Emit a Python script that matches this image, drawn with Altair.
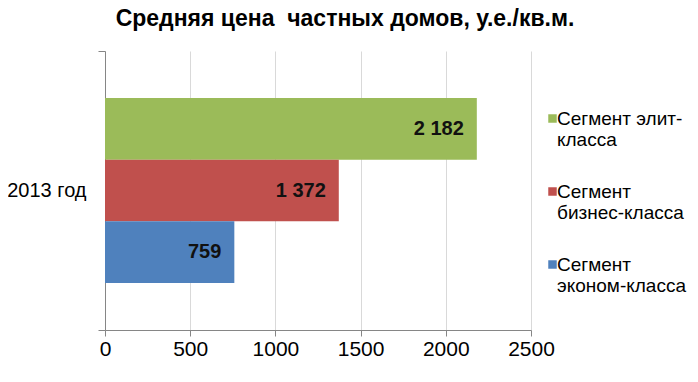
import altair as alt
import pandas as pd

title_text = "Средняя цена\u00a0 частных домов, у.е./кв.м."
years = ["2013 год"]
segments = ["Сегмент элит-\nкласса", "Сегмент\nбизнес-класса", "Сегмент\nэконом-класса"]
values = [2182, 1372, 759]
colors = ["#9BBB59", "#C0504D", "#4F81BD"]
x_ticks = [0, 500, 1000, 1500, 2000, 2500]

df = pd.DataFrame({
    "year": years * len(segments),
    "segment": segments,
    "value": values,
})

FONT = "Liberation Sans"
GRAY = "#868686"

base = alt.Chart(df).encode(
    y=alt.Y(
        "year:N",
        title=None,
        scale=alt.Scale(paddingInner=0, paddingOuter=0),
        axis=alt.Axis(
            tickBand="extent",
            ticks=True,
            tickSize=7,
            tickColor=GRAY,
            domainColor=GRAY,
            labelFontSize=20,
            labelColor="black",
            labelPadding=12,
            grid=False,
        ),
    ),
    yOffset=alt.YOffset(
        "segment:N",
        sort=segments,
        scale=alt.Scale(paddingOuter=0.762, paddingInner=0),
    ),
    x=alt.X(
        "value:Q",
        title=None,
        scale=alt.Scale(domain=[0, 2500], nice=False),
        axis=alt.Axis(
            values=x_ticks,
            format="d",
            grid=True,
            gridColor="#d9d9d9",
            tickSize=6,
            tickColor=GRAY,
            domainColor=GRAY,
            labelFontSize=21,
            labelColor="black",
            labelPadding=2,
            labelFlush=False,
        ),
    ),
)

bars = base.mark_bar(strokeWidth=0).encode(
    color=alt.Color(
        "segment:N",
        sort=segments,
        scale=alt.Scale(domain=segments, range=colors),
        legend=alt.Legend(
            title=None,
            orient="none",
            legendX=438,
            legendY=58,
            symbolType="square",
            symbolSize=72,
            symbolStrokeWidth=0,
            labelFontSize=19,
            labelColor="black",
            labelLimit=300,
            labelOffset={"expr": "-5"},
            labelExpr="split(datum.label, '\\n')",
            rowPadding=32,
            padding=0,
        ),
    )
)

labels = base.transform_calculate(
    lbl="replace(format(datum.value, ','), ',', ' ')"
).mark_text(
    align="right",
    baseline="middle",
    dx=-13,
    fontSize=20,
    fontWeight="bold",
    color="#111111",
).encode(text="lbl:N")

chart = (
    alt.layer(bars, labels)
    .properties(
        width=426,
        height=279,
        title=alt.TitleParams(
            title_text,
            fontSize=23,
            fontWeight="bold",
            font=FONT,
            color="black",
            anchor="middle",
            dx=27,
            offset=10,
        ),
        autosize=alt.AutoSizeParams(type="none"),
        padding={"left": 97, "top": 43, "right": 159, "bottom": 44},
    )
    .configure(font=FONT)
    .configure_view(stroke=None)
    .configure_text(font=FONT)
    .configure_legend(labelFont=FONT)
)

chart.save("out.html", embed_options={"renderer": "svg", "actions": False})
